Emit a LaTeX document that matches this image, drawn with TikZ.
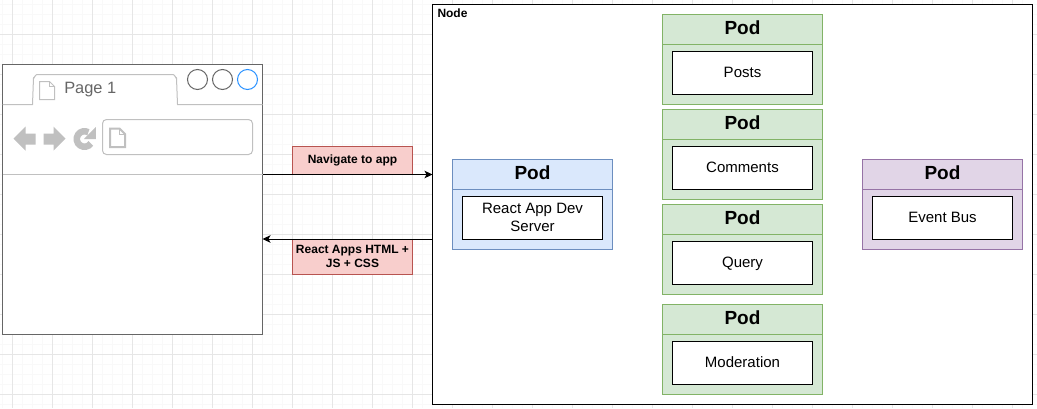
\documentclass[tikz,border=0pt]{standalone}
\usepackage{fontspec}
\setmainfont{Liberation Sans}
\usetikzlibrary{arrows.meta}
\definecolor{grid_major}{RGB}{230,230,230}
\definecolor{grid_minor}{RGB}{249,249,249}
\definecolor{browser_gray}{RGB}{102,102,102}
\definecolor{icon_gray}{RGB}{192,192,192}
\definecolor{button_blue}{RGB}{41,145,255}
\definecolor{node_blue}{RGB}{218,232,252}
\definecolor{edge_blue}{RGB}{108,142,191}
\definecolor{node_green}{RGB}{213,232,212}
\definecolor{edge_green}{RGB}{130,179,102}
\definecolor{node_purple}{RGB}{225,213,231}
\definecolor{edge_purple}{RGB}{150,115,166}
\definecolor{node_red}{RGB}{248,206,204}
\definecolor{edge_red}{RGB}{184,84,80}

\begin{document}
\begin{tikzpicture}[x=1pt,y=-1pt,line width=1pt,>={Stealth[length=8pt,width=7.5pt,inset=2pt]}]
    \tikzstyle{podblue}=[draw=edge_blue, fill=node_blue, minimum width=160pt, minimum height=90pt, outer sep=0pt]
    \tikzstyle{podgreen}=[style=podblue, draw=edge_green, fill=node_green]
    \tikzstyle{podpurple}=[style=podblue, draw=edge_purple, fill=node_purple]
    \tikzstyle{headblue}=[draw=edge_blue, minimum width=160pt, minimum height=30pt, outer sep=0pt, text height=13pt, text depth=4pt, font=\fontsize{19}{22}\selectfont\bfseries]
    \tikzstyle{headgreen}=[style=headblue, draw=edge_green]
    \tikzstyle{headpurple}=[style=headblue, draw=edge_purple]
    \tikzstyle{service}=[draw=black, fill=white, minimum width=140pt, minimum height=43pt, align=center, outer sep=0pt, font=\fontsize{15}{18}\selectfont]
    \tikzstyle{serviceone}=[style=service, text height=13pt, text depth=3pt]
    \tikzstyle{message}=[draw=edge_red, fill=node_red, minimum width=120pt, align=center, outer sep=0pt, inner sep=0pt, font=\fontsize{12}{14}\selectfont\bfseries]
    \tikzstyle{button}=[draw=browser_gray, circle, minimum size=20pt, inner sep=0pt, fill=white]

    \useasboundingbox (0,0) rectangle (1037,408);

    % background grid
    \foreach \k in {0,...,102} \draw[grid_minor, line width=1.6pt] (2.5+10*\k,0) -- (2.5+10*\k,408);
    \foreach \k in {0,...,40} \draw[grid_minor, line width=1.6pt] (0,4.5+10*\k) -- (1037,4.5+10*\k);
    \foreach \k in {0,...,25} \draw[grid_major] (12.5+40*\k,0) -- (12.5+40*\k,408);
    \foreach \k in {0,...,9} \draw[grid_major] (0,34.5+40*\k) -- (1037,34.5+40*\k);

    % browser window
    \node[draw=browser_gray, fill=white, minimum width=260pt, minimum height=270pt, outer sep=0pt] (browser) at (132.5,199.5) {};
    \draw[icon_gray] (browser.west |- 0,104.5) -- (32.5,104.5) -- (33.5,78) to[out=-90,in=180] (37,74.5) -- (173,74.5) to[out=0,in=-90] (176.5,78) -- (177.5,104.5) -- (browser.east |- 0,104.5);
    \draw[icon_gray] (browser.west |- 0,174.5) -- (browser.east |- 0,174.5);
    \draw[icon_gray] (39.5,81.5) -- (49.5,81.5) -- (54.5,86.5) -- (54.5,99.5) -- (39.5,99.5) -- cycle;
    \draw[icon_gray] (49.5,81.5) -- (49.5,86.5) -- (54.5,86.5);
    \node[text=browser_gray, font=\fontsize{16.4}{20}\selectfont] (page_label) at (90.3,89.5) {Page 1};
    \node[button] (button_a) at (197.5,79.5) {};
    \node[button] (button_b) at (222.5,79.5) {};
    \node[button, draw=button_blue] (button_c) at (247.5,79.5) {};
    \fill[icon_gray] (13.5,138.5) -- (25.5,126.5) -- (25.5,133.5) -- (35.5,133.5) -- (35.5,144.5) -- (25.5,144.5) -- (25.5,150.5) -- cycle;
    \fill[icon_gray] (65.5,138.5) -- (53.5,126.5) -- (53.5,133.5) -- (43.5,133.5) -- (43.5,144.5) -- (53.5,144.5) -- (53.5,150.5) -- cycle;
    \draw[icon_gray, line width=6.5pt] (84.5,139) ++(35:7.75) arc (35:300:7.75);
    \fill[icon_gray] (95.8,127) -- (95.8,139) -- (84,139) -- cycle;
    \draw[icon_gray, rounded corners=4pt] (102.5,119.5) rectangle (252.5,154.5);
    \draw[icon_gray, line width=2pt] (110,128.5) -- (119.5,128.5) -- (125,134) -- (125,147) -- (110,147) -- cycle;
    \draw[icon_gray] (119.5,128.5) -- (119.5,134) -- (125,134);

    % cluster node
    \node[draw=black, fill=white, minimum width=600pt, minimum height=400pt, outer sep=0pt] (cluster) at (732.5,204.5) {};
    \node[anchor=west, inner sep=0pt, font=\fontsize{12}{14}\selectfont\bfseries] (cluster_label) at (437,13) {Node};

    % pods
    \node[podblue] (client_pod) at (532.5,204.5) {};
    \node[headblue] (client_head) at (532.5,174.5) {Pod};
    \node[service] (client) at (532.5,217.5) {React App Dev\\Server};

    \node[podgreen] (posts_pod) at (742.5,59.5) {};
    \node[headgreen] (posts_head) at (742.5,29.5) {Pod};
    \node[serviceone] (posts) at (742.5,72.5) {Posts};

    \node[podgreen] (comments_pod) at (742.5,154.5) {};
    \node[headgreen] (comments_head) at (742.5,124.5) {Pod};
    \node[serviceone] (comments) at (742.5,167.5) {Comments};

    \node[podgreen] (query_pod) at (742.5,249.5) {};
    \node[headgreen] (query_head) at (742.5,219.5) {Pod};
    \node[serviceone] (query) at (742.5,262.5) {Query};

    \node[podgreen] (moderation_pod) at (742.5,349.5) {};
    \node[headgreen] (moderation_head) at (742.5,319.5) {Pod};
    \node[serviceone] (moderation) at (742.5,362.5) {Moderation};

    \node[podpurple] (bus_pod) at (942.5,204.5) {};
    \node[headpurple] (bus_head) at (942.5,174.5) {Pod};
    \node[serviceone] (bus) at (942.5,217.5) {Event Bus};

    % messages
    \node[message, minimum height=28pt] (navigate) at (352.5,160.5) {Navigate to app};
    \node[message, minimum height=35pt] (response) at (352.5,256.5) {React Apps HTML +\\JS + CSS};

    \draw[->] (browser.east |- navigate.south) -- (cluster.west |- navigate.south);
    \draw[->] (cluster.west |- response.north) -- (browser.east |- response.north);
\end{tikzpicture}
\end{document}
